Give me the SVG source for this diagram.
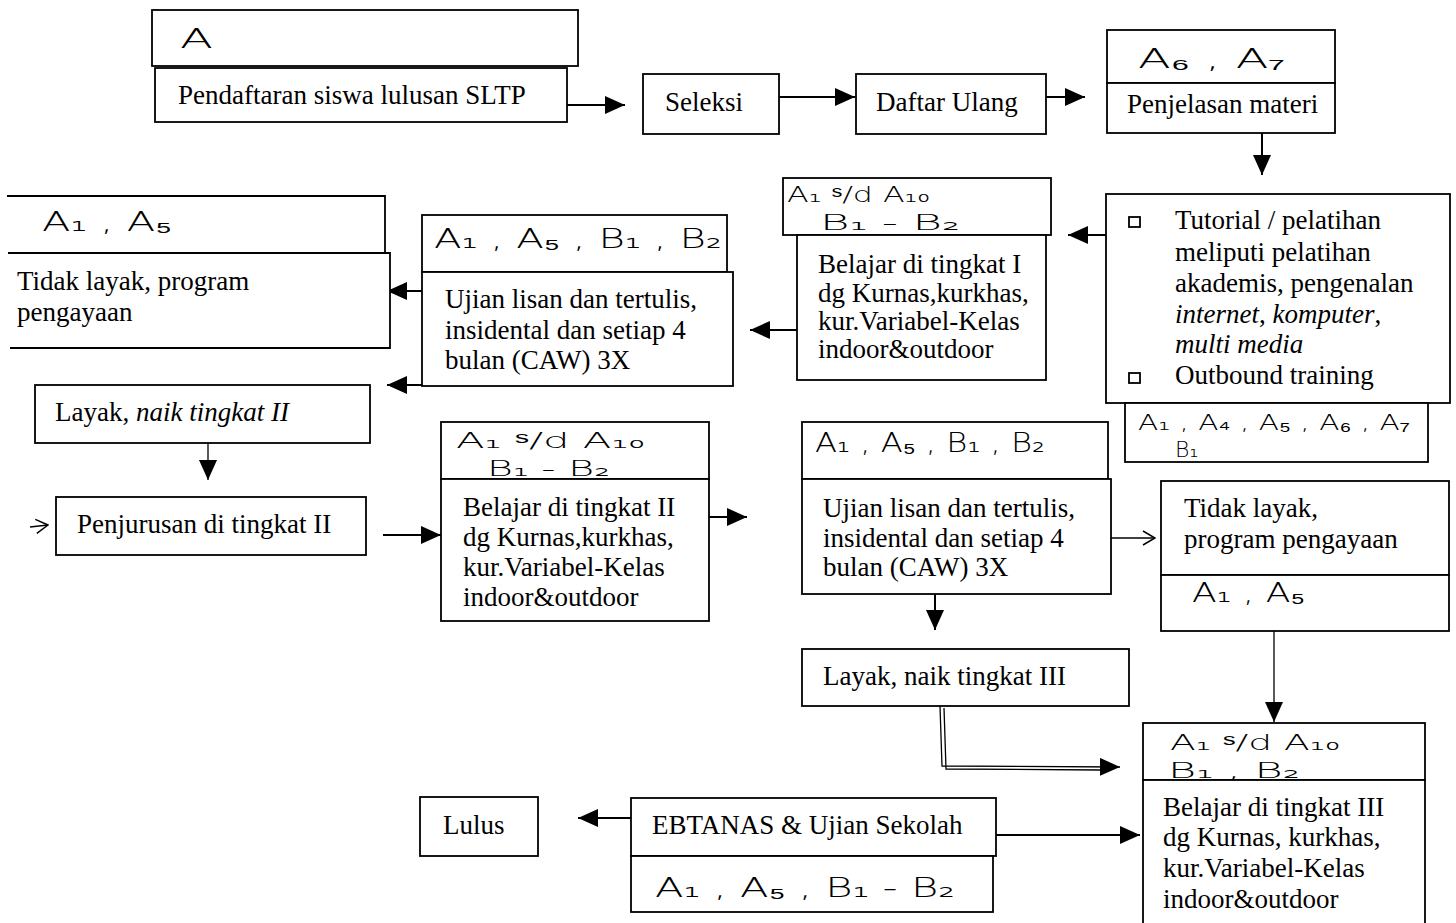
<svg xmlns="http://www.w3.org/2000/svg" width="1456" height="923" viewBox="0 0 1456 923">
<style>
.b{fill:#fff;stroke:#000;stroke-width:1.8}
.t{font-family:"Liberation Serif","Times New Roman",serif;font-size:27px;fill:#000}
.h{font-family:"DejaVu Sans",sans-serif;font-size:26px;fill:#000;font-weight:300}
.h2{font-family:"DejaVu Sans",sans-serif;font-size:22px;fill:#000;font-weight:300}
.c{stroke:#000;stroke-width:2;fill:none}
.thin{stroke:#000;stroke-width:1.3;fill:none}
</style>
<defs>
<marker id="ah" markerUnits="userSpaceOnUse" markerWidth="20" markerHeight="18" refX="20" refY="9" orient="auto"><path d="M0,0 L20,9 L0,18 z" fill="#000"/></marker>
<marker id="oa" markerUnits="userSpaceOnUse" markerWidth="14" markerHeight="16" refX="13" refY="8" orient="auto"><path d="M1,1 L13,8 L1,15" fill="none" stroke="#000" stroke-width="1.5"/></marker>
</defs>
<rect width="1456" height="923" fill="#fff"/>

<g id="connectors">
<line class="c" x1="567" y1="105" x2="625" y2="105" marker-end="url(#ah)"/>
<line class="c" x1="779" y1="97" x2="855" y2="97" marker-end="url(#ah)"/>
<line class="c" x1="1046" y1="97" x2="1085" y2="97" marker-end="url(#ah)"/>
<line class="c" x1="1262" y1="133" x2="1262" y2="175" marker-end="url(#ah)"/>
<line class="c" x1="1106" y1="235" x2="1068" y2="235" marker-end="url(#ah)"/>
<line class="c" x1="797" y1="330" x2="750" y2="330" marker-end="url(#ah)"/>
<line class="c" x1="422" y1="291" x2="387" y2="291" marker-end="url(#ah)"/>
<line class="c" x1="422" y1="385" x2="387" y2="385" marker-end="url(#ah)"/>
<line class="thin" x1="208" y1="443" x2="208" y2="480" marker-end="url(#ah)"/>
<line class="thin" x1="30" y1="527" x2="48" y2="525" marker-end="url(#oa)"/>
<line class="c" x1="383" y1="535" x2="441" y2="535" marker-end="url(#ah)"/>
<line class="c" x1="709" y1="517" x2="747" y2="517" marker-end="url(#ah)"/>
<line class="thin" x1="1111" y1="538" x2="1155" y2="538" marker-end="url(#oa)"/>
<line class="thin" x1="1274" y1="631" x2="1274" y2="722" marker-end="url(#ah)"/>
<line class="c" x1="935" y1="594" x2="935" y2="630" marker-end="url(#ah)"/>
<path class="thin" d="M940,706 L942,766 L1120,767" marker-end="url(#ah)"/>
<path class="thin" d="M944,708 L946,769 L1100,770"/>
<line class="c" x1="993" y1="835" x2="1140" y2="835" marker-end="url(#ah)"/>
<line class="c" x1="631" y1="818" x2="578" y2="818" marker-end="url(#ah)"/>
</g>

<g id="n-a"><rect class="b" x="152" y="10" width="426" height="56"/><text class="h" x="180" y="48" font-size="30" textLength="33" lengthAdjust="spacingAndGlyphs">A</text></g>
<g id="n-pendaftaran"><rect class="b" x="155" y="68" width="412" height="54"/><text class="t" x="178" y="104">Pendaftaran siswa lulusan SLTP</text></g>
<g id="n-seleksi"><rect class="b" x="643" y="74" width="136" height="60"/><text class="t" x="665" y="111">Seleksi</text></g>
<g id="n-daftar"><rect class="b" x="856" y="74" width="190" height="60"/><text class="t" x="876" y="111">Daftar Ulang</text></g>
<g id="n-a6a7"><rect class="b" x="1107" y="30" width="228" height="53"/><text class="h" x="1138" y="68" textLength="147" lengthAdjust="spacingAndGlyphs">A₆ , A₇</text></g>
<g id="n-penjelasan"><rect class="b" x="1107" y="83" width="228" height="50"/><text class="t" x="1127" y="113">Penjelasan materi</text></g>

<g id="n-tutorial"><rect class="b" x="1106" y="194" width="344" height="209"/>
<rect x="1129" y="217" width="11" height="10" fill="none" stroke="#000" stroke-width="1.8"/>
<rect x="1129" y="373" width="11" height="10" fill="none" stroke="#000" stroke-width="1.8"/>
<text class="t" x="1175" y="229">Tutorial / pelatihan</text>
<text class="t" x="1175" y="261">meliputi pelatihan</text>
<text class="t" x="1175" y="292">akademis, pengenalan</text>
<text class="t" x="1175" y="323"><tspan font-style="italic">internet</tspan>, <tspan font-style="italic">komputer</tspan>,</text>
<text class="t" x="1175" y="353" font-style="italic">multi media</text>
<text class="t" x="1175" y="384">Outbound training</text></g>
<g id="n-a1a4"><rect class="b" x="1125" y="403" width="303" height="59"/><text class="h2" x="1138" y="430" textLength="272" lengthAdjust="spacingAndGlyphs">A₁ , A₄ , A₅ , A₆ , A₇</text><text class="h2" x="1175" y="457">B₁</text></g>

<g id="n-a1a10-1"><rect class="b" x="783" y="178" width="268" height="57"/><text class="h2" x="787" y="202" textLength="143" lengthAdjust="spacingAndGlyphs">A₁ ˢ/d  A₁₀</text><text class="h2" x="820" y="230" textLength="140" lengthAdjust="spacingAndGlyphs">B₁  -  B₂</text></g>
<g id="n-belajar1"><rect class="b" x="797" y="235" width="249" height="145"/>
<text class="t" x="818" y="273">Belajar di tingkat I</text>
<text class="t" x="818" y="302">dg Kurnas,kurkhas,</text>
<text class="t" x="818" y="330">kur.Variabel-Kelas</text>
<text class="t" x="818" y="358">indoor&amp;outdoor</text></g>

<g id="n-a1a5b-1"><rect class="b" x="422" y="215" width="305" height="57"/><text class="h" x="434" y="248" textLength="288" lengthAdjust="spacingAndGlyphs">A₁ , A₅ , B₁ , B₂</text></g>
<g id="n-ujian1"><rect class="b" x="422" y="272" width="311" height="114"/>
<text class="t" x="445" y="308">Ujian lisan dan tertulis,</text>
<text class="t" x="445" y="339">insidental dan setiap 4</text>
<text class="t" x="445" y="369">bulan (CAW) 3X</text></g>

<g id="n-a1a5-left"><path class="b" d="M7,196 L385,196 L385,253"/><text class="h" x="42" y="231" textLength="130" lengthAdjust="spacingAndGlyphs">A₁ , A₅</text></g>
<g id="n-tidak1"><path class="b" d="M8,253 L390,253 L390,348 L10,348"/>
<text class="t" x="17" y="290">Tidak layak, program</text>
<text class="t" x="17" y="321">pengayaan</text></g>

<g id="n-layak2"><rect class="b" x="35" y="385" width="335" height="58"/><text class="t" x="55" y="421">Layak, <tspan font-style="italic">naik tingkat II</tspan></text></g>
<g id="n-penjurusan"><rect class="b" x="56" y="497" width="310" height="58"/><text class="t" x="77" y="533">Penjurusan di tingkat II</text></g>

<g id="n-a1a10-2"><rect class="b" x="441" y="422" width="268" height="57"/><text class="h2" x="456" y="448" textLength="189" lengthAdjust="spacingAndGlyphs">A₁ ˢ/d  A₁₀</text><text class="h2" x="487" y="476" textLength="123" lengthAdjust="spacingAndGlyphs">B₁  -  B₂</text></g>
<g id="n-belajar2"><rect class="b" x="441" y="479" width="268" height="142"/>
<text class="t" x="463" y="516">Belajar di tingkat II</text>
<text class="t" x="463" y="546">dg Kurnas,kurkhas,</text>
<text class="t" x="463" y="576">kur.Variabel-Kelas</text>
<text class="t" x="463" y="606">indoor&amp;outdoor</text></g>

<g id="n-a1a5b-2"><rect class="b" x="802" y="422" width="306" height="57"/><text class="h" x="815" y="452" textLength="230" lengthAdjust="spacingAndGlyphs">A₁ , A₅ , B₁ , B₂</text></g>
<g id="n-ujian2"><rect class="b" x="802" y="479" width="309" height="115"/>
<text class="t" x="823" y="517">Ujian lisan dan tertulis,</text>
<text class="t" x="823" y="547">insidental dan setiap 4</text>
<text class="t" x="823" y="576">bulan (CAW) 3X</text></g>

<g id="n-tidak2"><rect class="b" x="1161" y="481" width="288" height="94"/>
<text class="t" x="1184" y="517">Tidak layak,</text>
<text class="t" x="1184" y="548">program pengayaan</text></g>
<g id="n-a1a5-right"><rect class="b" x="1161" y="575" width="288" height="56"/><text class="h" x="1192" y="602" textLength="113" lengthAdjust="spacingAndGlyphs">A₁ , A₅</text></g>

<g id="n-layak3"><rect class="b" x="802" y="649" width="327" height="57"/><text class="t" x="823" y="685">Layak, naik tingkat III</text></g>

<g id="n-a1a10-3"><rect class="b" x="1143" y="723" width="282" height="57"/><text class="h2" x="1170" y="750" textLength="170" lengthAdjust="spacingAndGlyphs">A₁ ˢ/d  A₁₀</text><text class="h2" x="1168" y="778" textLength="132" lengthAdjust="spacingAndGlyphs">B₁ , B₂</text></g>
<g id="n-belajar3"><rect class="b" x="1143" y="780" width="282" height="150"/>
<text class="t" x="1163" y="816">Belajar di tingkat III</text>
<text class="t" x="1163" y="846">dg Kurnas, kurkhas,</text>
<text class="t" x="1163" y="877">kur.Variabel-Kelas</text>
<text class="t" x="1163" y="908">indoor&amp;outdoor</text></g>

<g id="n-ebtanas"><rect class="b" x="631" y="798" width="365" height="58"/><text class="t" x="652" y="834">EBTANAS &amp; Ujian Sekolah</text></g>
<g id="n-a1a5b1b2"><rect class="b" x="631" y="856" width="362" height="56"/><text class="h" x="655" y="897" font-size="30" textLength="300" lengthAdjust="spacingAndGlyphs">A₁  ,  A₅ ,  B₁ - B₂</text></g>
<g id="n-lulus"><rect class="b" x="420" y="797" width="118" height="59"/><text class="t" x="443" y="834">Lulus</text></g>
</svg>
